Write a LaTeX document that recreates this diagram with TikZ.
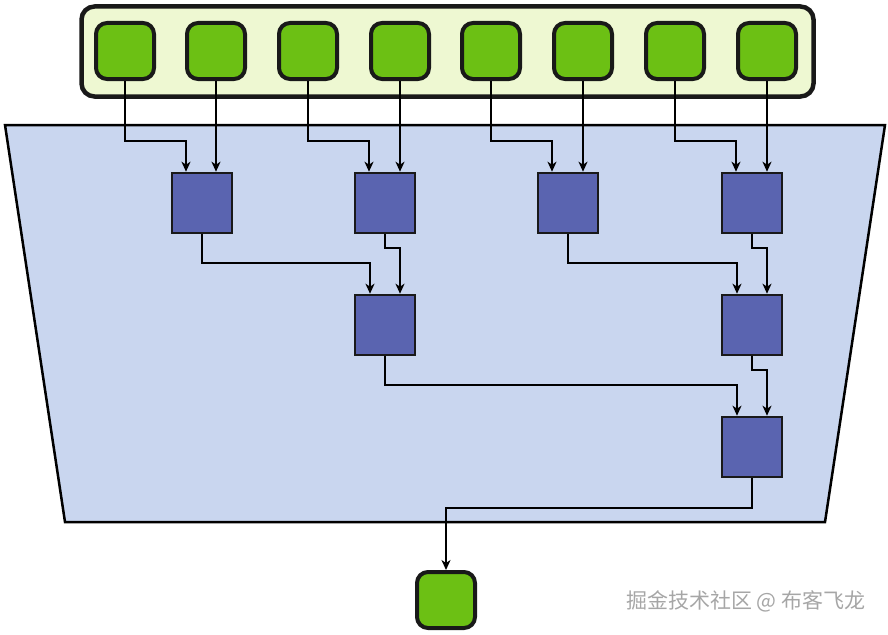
\documentclass[tikz,border=0pt]{standalone}
\usepackage{fontspec}
\newfontfamily\cjk{Noto Sans CJK SC}
\usetikzlibrary{arrows.meta}
\definecolor{gfill}{HTML}{6CC014}
\definecolor{cfill}{HTML}{EEF8D2}
\definecolor{tfill}{HTML}{C9D6EF}
\definecolor{bfill}{HTML}{5A64B0}
\begin{document}
\begin{tikzpicture}[x=1pt,y=-1pt,
 gn/.style={draw=black!90,line width=4pt,fill=gfill,rounded corners=11pt,minimum width=58pt,minimum height=56pt,inner sep=0},
 bx/.style={draw=black!90,line width=2.6pt,fill=bfill,minimum width=60pt,minimum height=60pt,inner sep=0},
 arr/.style={line width=1.8pt,-{Stealth[length=10pt,width=9pt,inset=3pt]}}]
\useasboundingbox (0,0) rectangle (888,634);
\node[draw=black!90,line width=4.5pt,fill=cfill,rounded corners=13pt,minimum width=732pt,minimum height=90pt,inner sep=0] (top) at (447.5,51.5) {};
\draw[line width=2.5pt,fill=tfill] (5,125) -- (885,125) -- (825,522) -- (65,522) -- cycle;
\foreach \i/\x in {1/125,2/216,3/308,4/400,5/491,6/583,7/675,8/767}
  \node[gn] (g\i) at (\x,51) {};
\node[bx] (a) at (202,203) {};
\node[bx] (b) at (385,203) {};
\node[bx] (c) at (568,203) {};
\node[bx] (d) at (752,203) {};
\node[bx] (e) at (385,325) {};
\node[bx] (f) at (752,325) {};
\node[bx] (h) at (752,447) {};
\node[gn] (o) at (446,600) {};
\draw[arr] (g1.south) -- (g1.south |- 0,141) -| ([xshift=-16pt]a.north);
\draw[arr] (g2.south) -- ([xshift=14pt]a.north);
\draw[arr] (g3.south) -- (g3.south |- 0,141) -| ([xshift=-16pt]b.north);
\draw[arr] (g4.south) -- ([xshift=15pt]b.north);
\draw[arr] (g5.south) -- (g5.south |- 0,141) -| ([xshift=-16pt]c.north);
\draw[arr] (g6.south) -- ([xshift=15pt]c.north);
\draw[arr] (g7.south) -- (g7.south |- 0,141) -| ([xshift=-16pt]d.north);
\draw[arr] (g8.south) -- ([xshift=15pt]d.north);
\draw[arr] (a.south) -- (a.south |- 0,263) -| ([xshift=-15pt]e.north);
\draw[arr] (b.south) -- (b.south |- 0,248) -| ([xshift=15pt]e.north);
\draw[arr] (c.south) -- (c.south |- 0,263) -| ([xshift=-15pt]f.north);
\draw[arr] (d.south) -- (d.south |- 0,248) -| ([xshift=15pt]f.north);
\draw[arr] (e.south) -- (e.south |- 0,385) -| ([xshift=-15pt]h.north);
\draw[arr] (f.south) -- (f.south |- 0,370) -| ([xshift=15pt]h.north);
\draw[arr] (h.south) -- (h.south |- 0,508) -| (o.north);
\node[anchor=east,text=black!35,font=\cjk\fontsize{21}{24}\selectfont] (wm) at (869,601) {掘金技术社区 @ 布客飞龙};
\end{tikzpicture}
\end{document}
